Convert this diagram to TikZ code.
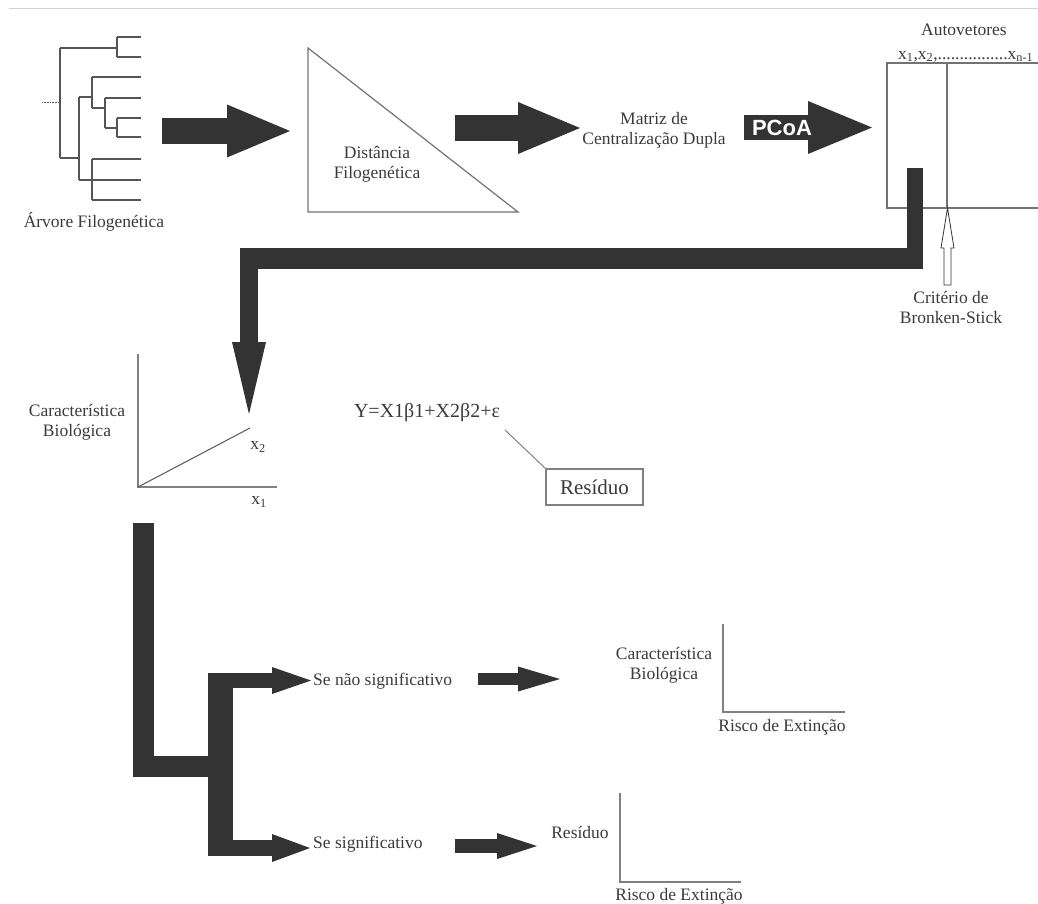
\documentclass[tikz,border=0pt]{standalone}
\usepackage{fontspec}
\setmainfont{Liberation Serif}
\newfontfamily\pcoafont{Liberation Sans}
\usetikzlibrary{positioning,arrows.meta,calc}

\definecolor{darkfill}{HTML}{333333}
\definecolor{txtgray}{HTML}{3A3A3A}
\definecolor{axisgray}{HTML}{808080}
\definecolor{treegray}{HTML}{555555}

\tikzset{
  lbl/.style={text=txtgray, font=\fontsize{17.5}{20}\selectfont, align=center, inner sep=0pt},
  fat/.style={draw=darkfill, line cap=butt, line join=miter},
  fatarr/.style n args={3}{fat, line width=#1, -{Triangle[length=#2, width=#3, line width=0pt]}},
  axisline/.style={draw=axisgray, line width=1.8pt},
  treeline/.style={draw=treegray, line width=1.2pt},
  thinline/.style={draw=axisgray!90!black, line width=1.2pt},
}

\begin{document}
\begin{tikzpicture}[x=1pt,y=-1pt]
\useasboundingbox (0,0) rectangle (1038,903);
% top rule
\draw[gray!35, line width=0.8pt] (9,8) -- (1038,8);

% phylogenetic tree
\draw[treeline] (60,48) -- (60,158)
  (60,48) -- (117,48) (117,37) -- (117,57) (117,37) -- (141,37) (117,57) -- (141,57)
  (60,158) -- (79,158) (79,97) -- (79,180)
  (79,97) -- (92,97) (92,77) -- (92,108) (92,77) -- (141,77)
  (92,108) -- (105,108) (105,98) -- (105,128) (105,98) -- (141,98)
  (105,128) -- (117,128) (117,118) -- (117,137) (117,118) -- (141,118) (117,137) -- (141,137)
  (79,180) -- (141,180) (92,159) -- (92,200) (92,159) -- (141,159) (92,200) -- (141,200);
\draw[treegray, densely dotted, line width=0.6pt] (42,102) -- (60,102);
\node[lbl] (tree) at (94,222) {Árvore Filogenética};

% distance triangle
\draw[thinline] (308,48) -- (308,212) -- (518,212) -- cycle;
\node[lbl] (dist) at (377,164) {Distância\\Filogenética};

\node[lbl] (matriz) at (654,130) {Matriz de\\Centralização Dupla};

% eigenvector box
\node[lbl] (autov) at (964,30) {Autovetores};
\node[lbl, anchor=base west] (xlab) at (898,59)
  {x\textsubscript{1},x\textsubscript{2},................x\textsubscript{n-1}};
\draw[thinline] (1038,63) -- (887,63) -- (887,208) -- (1038,208);
\draw[thinline] (947,63) -- (947,208);

% upper arrows
\coordinate (a1s) at (162,131);  \coordinate (a1e) at (290,131);
\coordinate (a2s) at (455,128);  \coordinate (a2e) at (580,128);
\coordinate (a3s) at (744,127.5); \coordinate (a3e) at (872,127.5);
\draw[fatarr={26pt}{63pt}{53pt}] (a1s) -- (a1e);
\draw[fatarr={26pt}{62pt}{52pt}] (a2s) -- (a2e);
\draw[fatarr={25pt}{64pt}{53pt}] (a3s) -- (a3e);
\node[font=\pcoafont\fontsize{22}{24}\selectfont\bfseries, text=white, inner sep=0pt] (pcoa) at (782,128) {PCoA};

% broken-stick marker
\coordinate (bs) at (947.5,285);
\draw[draw=black!80, fill=white, line width=0.8pt]
  ([shift={(-3.5,0)}]bs) -- ([shift={(-3.5,-37)}]bs) -- ([shift={(-6.5,-37)}]bs)
  -- ([shift={(0,-77)}]bs) -- ([shift={(6.5,-37)}]bs) -- ([shift={(3.5,-37)}]bs)
  -- ([shift={(3.5,0)}]bs) -- cycle;
\node[lbl] (crit) at (951,307) {Critério de\\Bronken-Stick};

% connector from eigenvectors down to the plot
\coordinate (eigdrop) at (915,168);
\coordinate (eigturn) at (915,269);
\coordinate (barright) at (923,258.5);
\coordinate (barleft) at (240,258.5);
\coordinate (downs) at (249,248);
\coordinate (downe) at (249,414);
\draw[fat, line width=16pt] (eigdrop) -- (eigturn);
\draw[fat, line width=21pt] (barright) -- (barleft);
\draw[fatarr={18pt}{72pt}{34pt}] (downs) -- (downe);

% regression plot
\draw[axisline] (138,354) -- (138,487) -- (277,487);
\draw[treegray, line width=1pt] (138,487) -- (250,428);
\node[lbl] (carac1) at (77,422) {Característica\\Biológica};
\node[lbl] (x2) at (258,447) {x\textsubscript{2}};
\node[lbl] (x1) at (259,502) {x\textsubscript{1}};

\node[lbl, font=\fontsize{20}{24}\selectfont] (eq) at (427,413) {Y=X1β1+X2β2+ε};
\node[lbl, font=\fontsize{21}{24}\selectfont, draw=axisgray, line width=1.2pt,
  minimum width=97pt, minimum height=36pt] (resbox) at (594.5,487) {Resíduo};
\coordinate (eqtail) at (505,430);
\draw[axisgray, line width=1pt] (eqtail) -- (resbox.north west);

% decision bracket
\coordinate (ltop) at (143.5,523);
\coordinate (lcorner) at (143.5,766);
\coordinate (lend) at (208,766);
\draw[fat, line width=21pt] (ltop) -- (lcorner) -- (lend);
\draw[fat, line width=25pt] (220.5,673) -- (220.5,856);
\coordinate (b1s) at (208,680.5); \coordinate (b1e) at (311,680.5);
\coordinate (b2s) at (208,848);   \coordinate (b2e) at (310,848);
\draw[fatarr={15pt}{39pt}{27pt}] (b1s) -- (b1e);
\draw[fatarr={16pt}{38pt}{28pt}] (b2s) -- (b2e);

\node[lbl, anchor=west] (nsig) at (313,681) {Se não significativo};
\node[lbl, anchor=west] (sig) at (313,844) {Se significativo};

\coordinate (c1s) at (478,679); \coordinate (c1e) at (560,679);
\coordinate (c2s) at (455,846); \coordinate (c2e) at (537,846);
\draw[fatarr={12pt}{42pt}{25pt}] (c1s) -- (c1e);
\draw[fatarr={14pt}{40pt}{26pt}] (c2s) -- (c2e);

% result plots
\draw[axisline] (723,624) -- (723,712) -- (845,712);
\node[lbl] (carac2) at (664,665) {Característica\\Biológica};
\node[lbl] (risco1) at (782,727) {Risco de Extinção};

\draw[axisline] (620,793) -- (620,882) -- (741,882);
\node[lbl] (resid) at (580,832) {Resíduo};
\node[lbl] (risco2) at (679,896) {Risco de Extinção};
\end{tikzpicture}
\end{document}
